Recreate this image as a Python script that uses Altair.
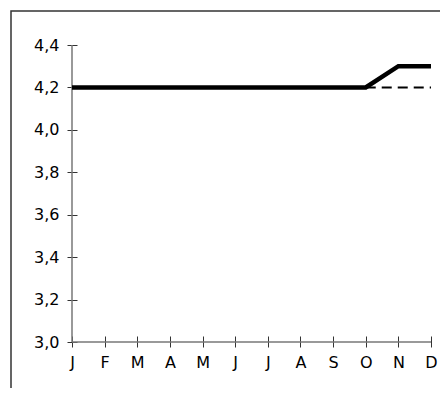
import altair as alt
import pandas as pd

months = ["J", "F", "M", "A", "M", "J", "J", "A", "S", "O", "N", "D"]
solid_values = [4.2, 4.2, 4.2, 4.2, 4.2, 4.2, 4.2, 4.2, 4.2, 4.2, 4.3, 4.3]
dashed_idx = [9, 10, 11]
dashed_values = [4.2, 4.2, 4.2]
y_ticks = [3.0, 3.2, 3.4, 3.6, 3.8, 4.0, 4.2, 4.4]

W, H = 359, 297

solid = pd.DataFrame({"i": list(range(12)), "v": solid_values})
dashed = pd.DataFrame({"i": dashed_idx, "v": dashed_values})

month_expr = "[" + ",".join(f"'{m}'" for m in months) + "][datum.value]"

x_scale = alt.Scale(domain=[0, 11], nice=False, zero=False)
y_scale = alt.Scale(domain=[3.0, 4.4], nice=False, zero=False)

x_axis = alt.Axis(values=list(range(12)), labelExpr=month_expr, title=None, grid=False,
                  domain=False, tickSize=11, offset=-6, tickColor="#333333", tickWidth=1,
                  labelFont="DejaVu Sans", labelFontSize=16, labelColor="#000000",
                  labelPadding=7, labelFlush=False, labelOverlap=False)
y_axis = alt.Axis(values=y_ticks, labelExpr="replace(format(datum.value, '.1f'), '.', ',')",
                  title=None, grid=False, domain=False, tickSize=10, offset=-5,
                  tickColor="#333333", tickWidth=1, labelFont="DejaVu Sans", labelFontSize=16,
                  labelColor="#000000", labelPadding=8, labelFlush=False, labelOverlap=False)

one = alt.Data(values=[{"a": 1}])

frame = alt.Chart(one).mark_rect(fill="white", fillOpacity=0, stroke="#333333", strokeWidth=1.5).encode(
    x=alt.value(-61), x2=alt.value(600), y=alt.value(-34), y2=alt.value(600))

ydomain = alt.Chart(one).mark_rule(color="#777777", strokeWidth=1.5).encode(
    x=alt.value(0), y=alt.value(0), y2=alt.value(H))
xdomain = alt.Chart(one).mark_rule(color="#777777", strokeWidth=1.5).encode(
    x=alt.value(0), x2=alt.value(W), y=alt.value(H))

dash_line = alt.Chart(dashed).mark_line(color="#000000", strokeWidth=2, strokeDash=[10, 6]).encode(
    x=alt.X("i:Q", scale=x_scale, axis=x_axis),
    y=alt.Y("v:Q", scale=y_scale, axis=y_axis))

solid_line = alt.Chart(solid).mark_line(color="#000000", strokeWidth=4.5).encode(
    x=alt.X("i:Q", scale=x_scale, axis=x_axis),
    y=alt.Y("v:Q", scale=y_scale, axis=y_axis))

chart = alt.layer(frame, ydomain, xdomain, dash_line, solid_line).properties(
    width=W, height=H,
    autosize=alt.AutoSizeParams(type="none"),
    padding={"left": 64, "top": 37, "right": 9, "bottom": 46},
).configure(background="white").configure_view(stroke=None)

chart.save("out.html", embed_options={"renderer": "svg", "actions": False})
